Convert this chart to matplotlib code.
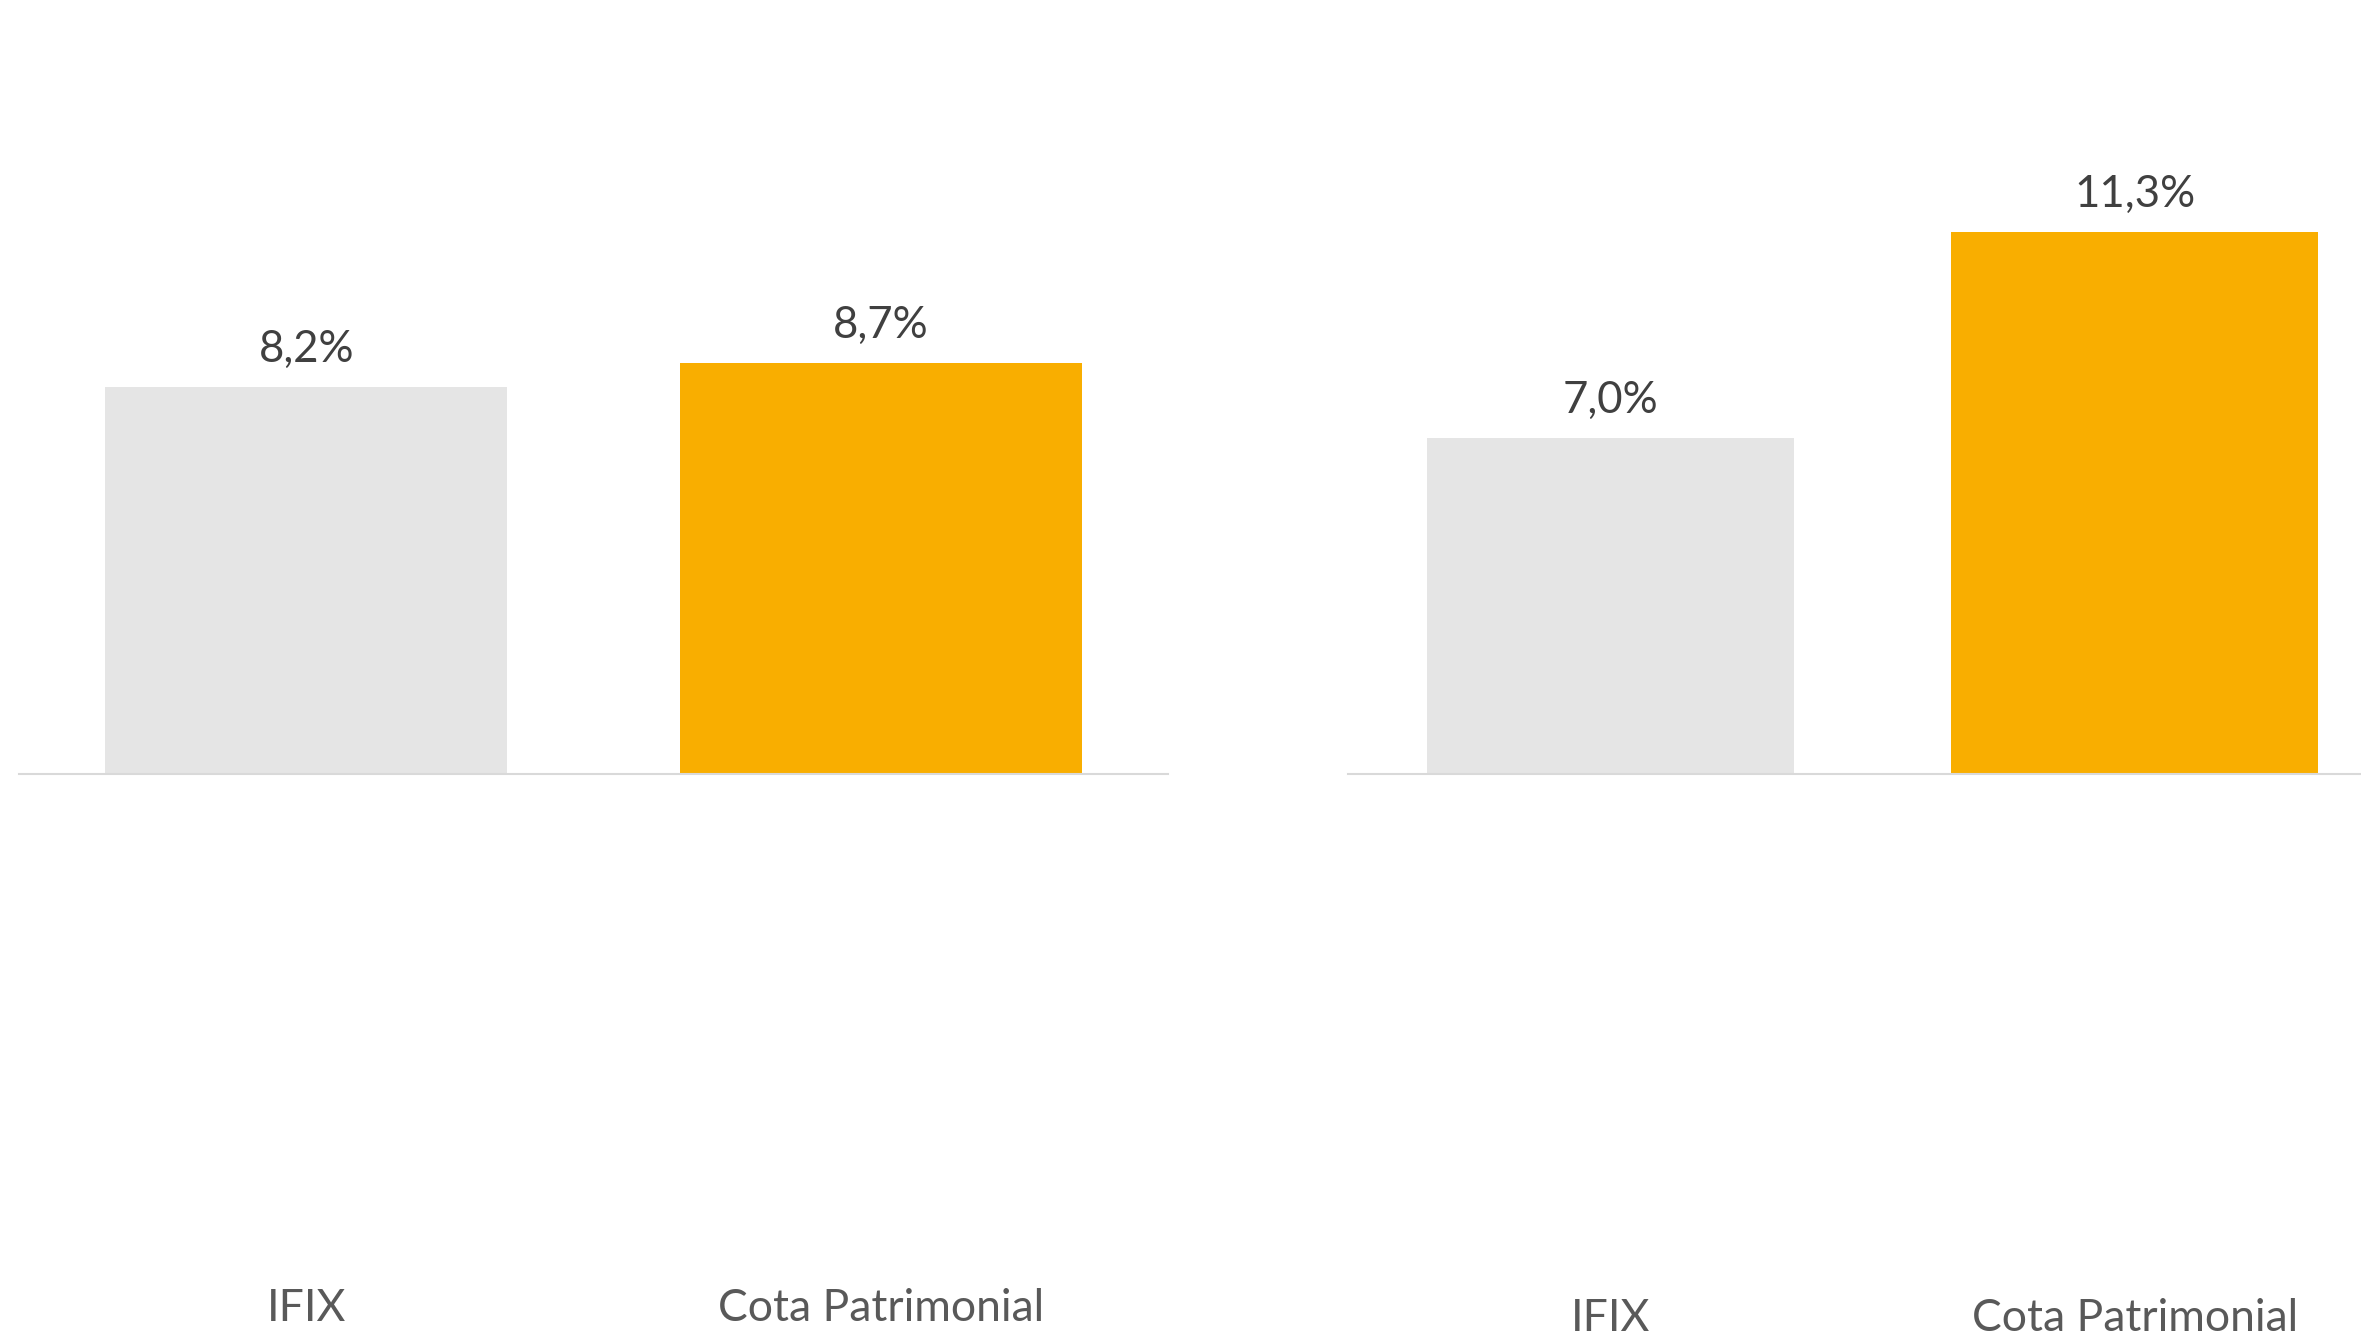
import matplotlib
matplotlib.use("Agg")
import matplotlib.pyplot as plt

plt.rcParams['font.family'] = ['Lato', 'DejaVu Sans']

categorias = ["IFIX", "Cota Patrimonial"]
valores_esq = [8.2, 8.7]   # painel da esquerda
valores_dir = [7.0, 11.3]  # painel da direita
rotulos_esq = ["8,2%", "8,7%"]
rotulos_dir = ["7,0%", "11,3%"]

cores = ["#E5E5E5", "#F9AE00"]
cor_valor = "#404040"
cor_cat = "#595959"
cor_eixo = "#D9D9D9"

W, H = 2361, 1333
fig = plt.figure(figsize=(W / 100, H / 100), dpi=100)
fig.patch.set_facecolor("white")

base_px = 774  # linha de base (px a partir do topo)


def painel(x0, x1, topo_px, ymax, valores, rotulos, pad_cat):
    # posicao do eixo em fracao da figura
    ax = fig.add_axes([x0 / W, 1 - base_px / H, (x1 - x0) / W, (base_px - topo_px) / H])
    xs = list(range(len(categorias)))
    barras = ax.bar(xs, valores, width=0.7, color=cores, zorder=2)
    ax.set_xlim(-0.5, 1.5)
    ax.set_ylim(0, ymax)
    for b, r in zip(barras, rotulos):
        ax.annotate(r, (b.get_x() + b.get_width() / 2, b.get_height()),
                    xytext=(0, 18), textcoords="offset points",
                    ha="center", va="baseline", fontsize=31.5, color=cor_valor)
    ax.set_xticks(xs)
    ax.set_xticklabels(categorias, fontsize=32, color=cor_cat)
    ax.tick_params(axis="x", length=0, pad=pad_cat)
    ax.set_yticks([])
    for s in ["top", "left", "right"]:
        ax.spines[s].set_visible(False)
    ax.spines["bottom"].set_color(cor_eixo)
    ax.spines["bottom"].set_linewidth(1.5)
    ax.patch.set_alpha(0)
    return ax


# esquerda: 47.2 px por ponto percentual
painel(19, 1168, base_px - 47.2 * 14, 14, valores_esq, rotulos_esq, 370)
# direita: 48.0 px por ponto percentual (eixo passa da borda da figura)
painel(1348, 2397, base_px - 48.0 * 14, 14, valores_dir, rotulos_dir, 377)

fig.savefig("out.png", dpi=100, facecolor="white")
